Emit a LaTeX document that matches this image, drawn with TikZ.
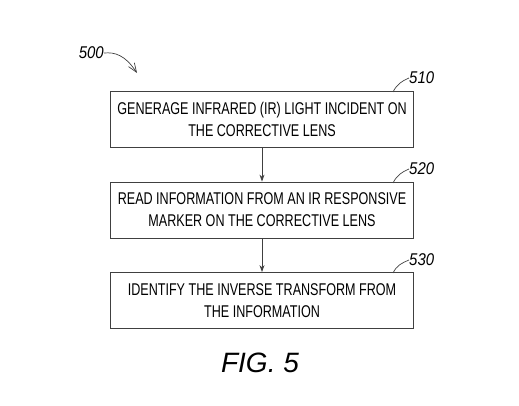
\documentclass[tikz,border=0pt]{standalone}
\usepackage{fontspec}
\setmainfont{Liberation Sans}
\newfontfamily\boxfont[FakeStretch=0.74]{Liberation Sans}
\newfontfamily\labfont[FakeStretch=0.88]{Liberation Sans}
\usetikzlibrary{arrows.meta}
\begin{document}
\begin{tikzpicture}[x=1pt,y=-1pt,
  stepbox/.style={draw=black!75, line width=0.8pt, minimum width=303pt, minimum height=56pt,
    align=center, font=\boxfont\fontsize{17}{22}\selectfont, inner sep=0pt},
  flow/.style={draw=black!75, line width=0.8pt, -{Stealth[length=7pt,width=5pt]}},
  reflabel/.style={font=\labfont\itshape\fontsize{17}{17}\selectfont, anchor=west, inner sep=0pt},
  leader/.style={draw=black!75, line width=0.7pt}]
\useasboundingbox (0,0) rectangle (519,406);
\node[stepbox] (b1) at (262,119.5) {GENERAGE INFRARED (IR) LIGHT INCIDENT ON\\THE CORRECTIVE LENS};
\node[stepbox] (b2) at (262,210) {READ INFORMATION FROM AN IR RESPONSIVE\\MARKER ON THE CORRECTIVE LENS};
\node[stepbox] (b3) at (262,300.5) {IDENTIFY THE INVERSE TRANSFORM FROM\\THE INFORMATION};
\draw[flow] (b1) -- (b2);
\draw[flow] (b2) -- (b3);
\node[reflabel] (l510) at (409,78) {510};
\node[reflabel] (l520) at (409,169) {520};
\node[reflabel] (l530) at (409,260) {530};
\coordinate (c1) at (393,92);
\coordinate (c2) at (393,183);
\coordinate (c3) at (393,273);
\draw[leader] (c1) .. controls (397,84) and (402,81) .. (l510.west);
\draw[leader] (c2) .. controls (397,175) and (402,172) .. (l520.west);
\draw[leader] (c3) .. controls (397,265) and (402,263) .. (l530.west);
\node[reflabel, anchor=east] (l500) at (104,53) {500};
\coordinate (t500) at (137,73);
\draw[leader, -{Straight Barb[length=9pt,width=7pt]}] (l500.east) .. controls (115,52) and (125,55) .. (t500);
\node[font=\itshape\fontsize{28}{28}\selectfont, inner sep=0pt] (fig) at (260,363) {FIG. 5};
\end{tikzpicture}
\end{document}
